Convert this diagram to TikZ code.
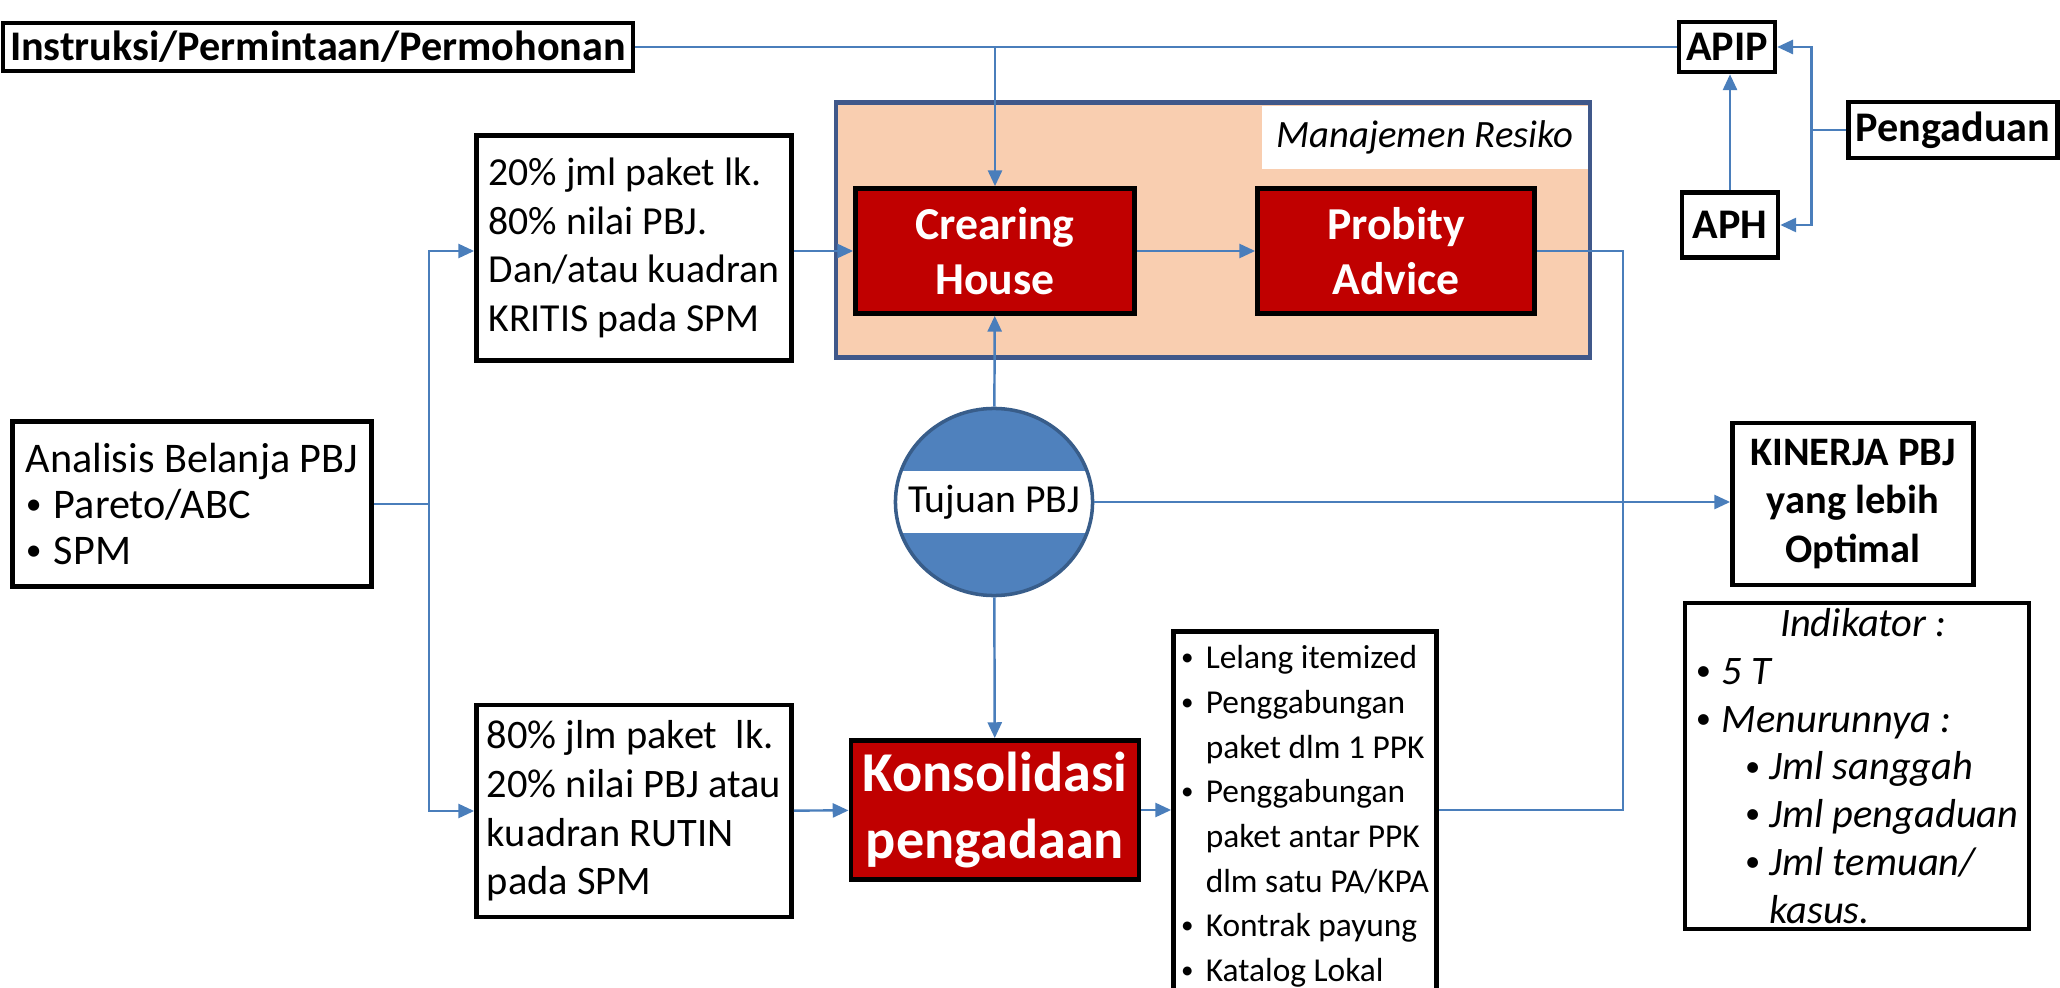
\documentclass[tikz,border=0pt]{standalone}
\usepackage{fontspec}
\setmainfont{Carlito}
\usetikzlibrary{arrows.meta,shapes.geometric}
\definecolor{linkblue}{RGB}{74,126,187}
\definecolor{groupline}{RGB}{64,88,138}
\definecolor{peach}{RGB}{249,206,176}
\definecolor{darkred}{RGB}{192,0,0}
\definecolor{goalblue}{RGB}{79,129,189}
\definecolor{goalline}{RGB}{56,93,138}
\newcommand{\bul}[1]{\makebox[#1][l]{\raisebox{0.2ex}{\scalebox{0.75}{\textbullet}}}}
\tikzset{
    Box/.style = {draw,line width=1.3pt,fill=white,inner xsep=2pt,inner ysep=1pt,align=left,
        font=\fontsize{11.3}{13.8}\selectfont},
    Tag/.style = {draw,line width=1.3pt,fill=white,inner sep=2pt,font=\bfseries\fontsize{12}{14}\selectfont},
    RedBox/.style = {draw,line width=1.3pt,fill=darkred,text=white,align=center,
        font=\bfseries\fontsize{13}{15.5}\selectfont},
    Goal/.style = {ellipse,draw=goalline,line width=1pt,fill=goalblue,inner sep=0pt,
        minimum width=1.97cm,minimum height=1.87cm,
        path picture={\fill[white] ([yshift=0.31cm]path picture bounding box.west)
            rectangle ([yshift=-0.31cm]path picture bounding box.east);},
        label={[font=\fontsize{11.3}{13}\selectfont]center:#1}},
    Link/.style = {draw=linkblue,line width=0.7pt},
    Arrow/.style = {Link,-{Triangle[length=4.5pt,width=4pt]}}
}
\begin{document}
\begin{tikzpicture}[x=0.01cm,y=-0.01cm]
\useasboundingbox (0,0) rectangle (2060,988);
% top row
\node[Tag,minimum width=6.17cm,minimum height=0.48cm] (instr) at (318,47) {Instruksi/Permintaan/Permohonan};
\node[Tag,minimum width=0.88cm,minimum height=0.5cm] (apip) at (1727,47) {APIP};
\node[Tag,minimum width=0.96cm,minimum height=0.65cm] (aph) at (1730,225) {APH};
\node[Tag,minimum width=2.01cm,minimum height=0.56cm] (peng) at (1953,130) {Pengaduan};
% manajemen resiko
\node[draw=groupline,line width=1.2pt,fill=peach,minimum width=7.54cm,minimum height=2.55cm] (mr) at (1213,230) {};
\node[fill=white,anchor=north east,minimum width=3.25cm,minimum height=0.63cm,
    font=\itshape\fontsize{11}{13}\selectfont] (mrlabel) at ([xshift=-0.04cm,yshift=-0.05cm]mr.north east) {Manajemen Resiko};
\node[RedBox,minimum width=2.79cm,minimum height=1.25cm] (crear) at (995,251) {Crearing\\House};
\node[RedBox,minimum width=2.77cm,minimum height=1.25cm] (prob) at (1396,251) {Probity\\Advice};
% left side
\node[Box,minimum width=3.15cm,minimum height=2.25cm] (box20) at (634,248)
    {20\% jml paket lk.\\80\% nilai PBJ.\\Dan/atau kuadran\\KRITIS pada SPM};
\node[Box,minimum width=3.59cm,minimum height=1.65cm,font=\fontsize{12}{13}\selectfont] (anal) at (192,504)
    {Analisis Belanja PBJ\\\bul{8pt}Pareto/ABC\\\bul{8pt}SPM};
\node[Box,minimum width=3.15cm,minimum height=2.12cm,font=\fontsize{11.5}{13.8}\selectfont] (box80) at (634,811)
    {80\% jlm paket\ \ lk.\\20\% nilai PBJ atau\\kuadran RUTIN\\pada SPM};
% middle
\node[Goal=Tujuan PBJ] (goal) at (994,502) {};
\node[RedBox,minimum width=2.82cm,minimum height=1.27cm,font=\bfseries\fontsize{16}{19}\selectfont] (kons) at (995,810)
    {Konsolidasi\\pengadaan};
\node[Box,anchor=north,minimum width=2.63cm,minimum height=3.7cm,font=\fontsize{9.5}{12.7}\selectfont] (list) at (1305,629)
    {\bul{7pt}Lelang itemized\\\bul{7pt}Penggabungan\\\hspace*{7pt}paket dlm 1 PPK\\
     \bul{7pt}Penggabungan\\\hspace*{7pt}paket antar PPK\\\hspace*{7pt}dlm satu PA/KPA\\
     \bul{7pt}Kontrak payung\\\bul{7pt}Katalog Lokal};
% right side
\node[Box,align=center,minimum width=2.41cm,minimum height=1.62cm,font=\bfseries\fontsize{11.5}{13.8}\selectfont] (kin) at (1853,504)
    {KINERJA PBJ\\yang lebih\\Optimal};
\node[Box,minimum width=3.44cm,minimum height=3.26cm,font=\itshape\fontsize{11.5}{13.6}\selectfont] (ind) at (1857,766)
    {\hspace*{24pt}Indikator :\\\bul{7.4pt}5 T\\\bul{7.4pt}Menurunnya :\\
     \hspace*{14pt}\bul{7pt}Jml sanggah\\\hspace*{14pt}\bul{7pt}Jml pengaduan\\
     \hspace*{14pt}\bul{7pt}Jml temuan/\\\hspace*{21pt}kasus.};
% connectors
\draw[Link] (instr.east) -- (apip.west);
\coordinate (drop) at (instr.east -| crear.north);
\draw[Arrow] (drop) -- (crear.north);
\draw[Link] (peng.west) -- ++(-35,0) coordinate (pj);
\draw[Arrow] (pj) |- (apip.east);
\draw[Arrow] (pj) |- (aph.east);
\draw[Arrow] (aph.north) -- (aph.north |- apip.south);
\draw[Link] (anal.east) -- ++(55,0) coordinate (aj);
\draw[Arrow] (aj) |- (box20.west |- crear.west);
\draw[Arrow] (aj) |- (box80.west);
\draw[Arrow] (box20.east |- crear.west) -- (crear.west);
\draw[Arrow] (crear) -- (prob);
\draw[Arrow] (box80) -- (kons);
\draw[Arrow] (goal) -- (crear);
\draw[Arrow] (goal) -- (kons);
\draw[Arrow] (goal.east) -- (kin.west |- goal.east);
\draw[Arrow] (kons.east) -- (list.west |- kons.east);
\coordinate (bend) at (1623,0);
\draw[Link] (list.east |- kons.east) -| (bend |- prob.east) -- (prob.east);
\end{tikzpicture}
\end{document}
